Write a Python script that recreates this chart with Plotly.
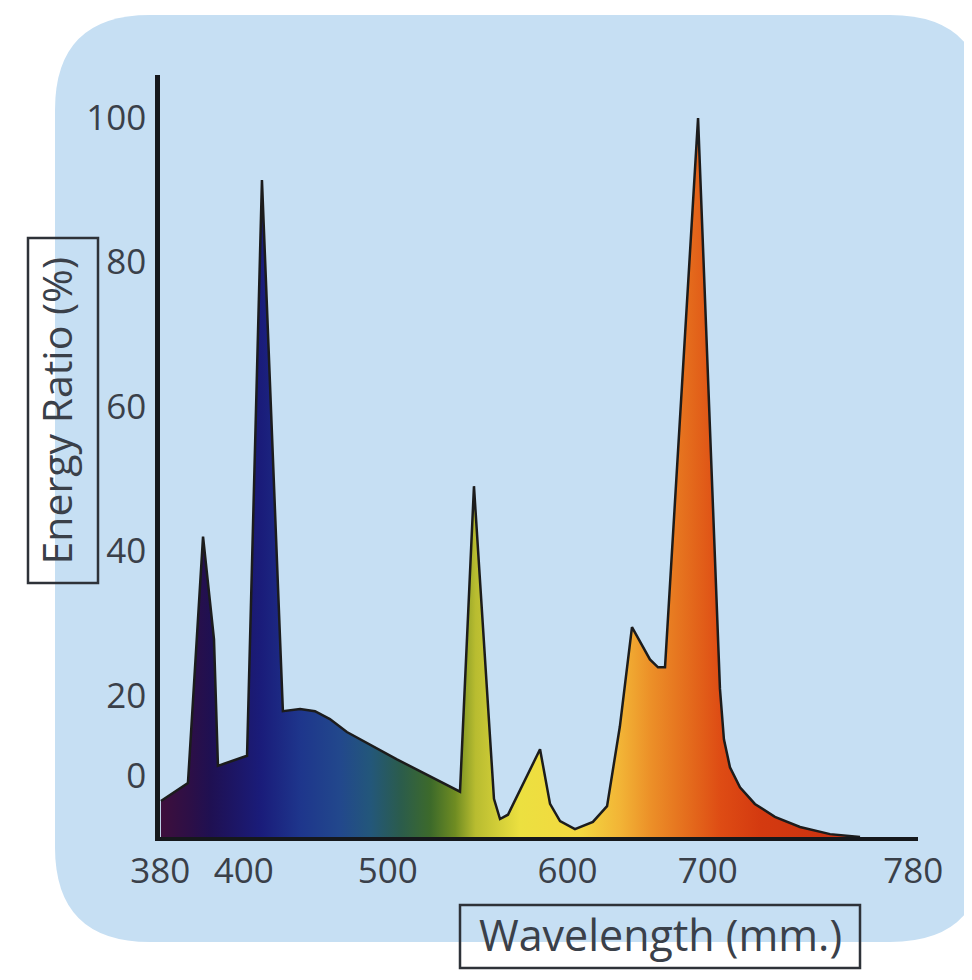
import plotly.graph_objects as go

# ---- data ----
wavelength_nm = [379.0, 393.3, 401.3, 407.1, 409.2, 424.6, 432.5, 443.6, 452.7, 460.6,
                 468.5, 477.5, 504.0, 521.5, 537.4, 544.8, 555.4, 558.6, 562.8, 579.8,
                 585.1, 590.4, 598.3, 607.8, 615.3, 622.1, 628.5, 638.0, 642.3, 646.0,
                 663.5, 675.1, 677.2, 680.4, 685.7, 693.6, 704.2, 717.5, 733.4, 749.3]
energy_ratio = [5.0, 7.5, 41.8, 27.5, 9.9, 11.3, 91.4, 17.5, 17.8, 17.5,
                16.4, 14.6, 10.8, 8.5, 6.3, 48.8, 5.3, 2.5, 3.1, 12.2,
                4.6, 2.2, 1.1, 2.1, 4.3, 15.4, 29.2, 24.7, 23.6, 23.6,
                100.0, 20.6, 13.6, 9.7, 6.9, 4.6, 2.8, 1.4, 0.4, 0.0]

x_tick_text = ["380", "400", "500", "600", "700", "780"]
x_tick_vals = [378.6, 422.9, 499.1, 594.4, 668.6, 777.5]   # where the labels sit in the original
y_tick_text = ["0", "20", "40", "60", "80", "100"]
y_tick_vals = [8.5, 19.6, 39.8, 59.8, 80.0, 100.0]

x_title = "Wavelength (mm.)"
y_title = "Energy Ratio (%)"

# ---- layout geometry ----
# the page adds an 8px body margin, so the figure is drawn 8px smaller
OFF = 8
W, H = 972 - OFF, 980 - OFF
PLOT_L, PLOT_R, PLOT_T, PLOT_B = 160, 918, 75, 837      # in screen pixels
ML, MR, MT, MB = PLOT_L - OFF, 972 - PLOT_R, PLOT_T - OFF, 980 - PLOT_B
PW, PH = PLOT_R - PLOT_L, PLOT_B - PLOT_T


def px2paper(px, py):
    return (px - PLOT_L) / PW, (PLOT_B - py) / PH


spectrum_scale = [
    [0.000, "#3e0f3c"], [0.043, "#2c0f47"], [0.071, "#1f1052"], [0.143, "#1a1c7a"],
    [0.200, "#1e368c"], [0.257, "#22488c"], [0.300, "#23577a"], [0.343, "#2b5c4c"],
    [0.386, "#3d6a2a"], [0.421, "#6f8c22"], [0.450, "#b8bc30"], [0.514, "#ece040"],
    [0.600, "#f3d840"], [0.657, "#f2b436"], [0.700, "#ec9028"], [0.757, "#e46a1c"],
    [0.800, "#de4c14"], [0.857, "#d43a10"], [1.000, "#c83010"],
]

fig = go.Figure()
fig.add_trace(go.Scatter(
    x=wavelength_nm, y=energy_ratio, mode="lines",
    line=dict(color="#1c1c1c", width=2.5),
    fill="tozeroy",
    fillgradient=dict(type="horizontal", colorscale=spectrum_scale),
    hoverinfo="skip", showlegend=False,
))

# rounded light-blue panel behind the chart
L, T, R, B, r = 55, 15, 985, 942, 95
pts = {
    "a": px2paper(L + r, T), "b": px2paper(R - r, T), "c": px2paper(R, T),
    "d": px2paper(R, T + r), "e": px2paper(R, B - r), "f": px2paper(R, B),
    "g": px2paper(R - r, B), "h": px2paper(L + r, B), "i": px2paper(L, B),
    "j": px2paper(L, B - r), "k": px2paper(L, T + r), "l": px2paper(L, T),
}
fmt = lambda p: f"{p[0]:.5f},{p[1]:.5f}"
path = (f"M {fmt(pts['a'])} L {fmt(pts['b'])} Q {fmt(pts['c'])} {fmt(pts['d'])} "
        f"L {fmt(pts['e'])} Q {fmt(pts['f'])} {fmt(pts['g'])} L {fmt(pts['h'])} "
        f"Q {fmt(pts['i'])} {fmt(pts['j'])} L {fmt(pts['k'])} Q {fmt(pts['l'])} {fmt(pts['a'])} Z")
fig.add_shape(type="path", path=path, xref="paper", yref="paper",
              fillcolor="#c6dff3", line=dict(width=0), layer="below")

# frames round the two axis titles
box_line = dict(color="#2e3238", width=2.5)
for (x0, y0, x1, y1) in [(28, 238, 98, 583), (460, 905, 860, 968)]:
    p0, p1 = px2paper(x0, y1), px2paper(x1, y0)
    fig.add_shape(type="rect", xref="paper", yref="paper",
                  x0=p0[0], y0=p0[1], x1=p1[0], y1=p1[1],
                  line=box_line, fillcolor="rgba(0,0,0,0)", layer="above")

text_color = "#3a4049"
font_family = "Open Sans, Noto Sans, sans-serif"

yx, yy = px2paper(55, 410.5)
fig.add_annotation(text=y_title, xref="paper", yref="paper", x=yx, y=yy,
                   xanchor="center", yanchor="middle",
                   showarrow=False, textangle=-90,
                   font=dict(family=font_family, size=41, color=text_color))
xx, xy = px2paper(660, 934.5)
fig.add_annotation(text=x_title, xref="paper", yref="paper", x=xx, y=xy,
                   xanchor="center", yanchor="middle",
                   showarrow=False,
                   font=dict(family=font_family, size=43, color=text_color))

fig.update_layout(
    width=W, height=H,
    margin=dict(l=ML, r=MR, t=MT, b=MB, autoexpand=False),
    paper_bgcolor="white", plot_bgcolor="rgba(0,0,0,0)",
    font=dict(family=font_family, color=text_color),
    xaxis=dict(range=[378.5, 780], showgrid=False, zeroline=False,
               showline=True, linecolor="#15181c", linewidth=4,
               tickmode="array", tickvals=x_tick_vals, ticktext=x_tick_text,
               ticks="", tickfont=dict(size=35, color=text_color),
               ticklabelstandoff=0),
    yaxis=dict(range=[0, 106], showgrid=False, zeroline=False,
               showline=True, linecolor="#15181c", linewidth=4.5,
               tickmode="array", tickvals=y_tick_vals, ticktext=y_tick_text,
               ticks="", tickfont=dict(size=35, color=text_color),
               ticklabelstandoff=2),
)

fig.write_html("out.html")
